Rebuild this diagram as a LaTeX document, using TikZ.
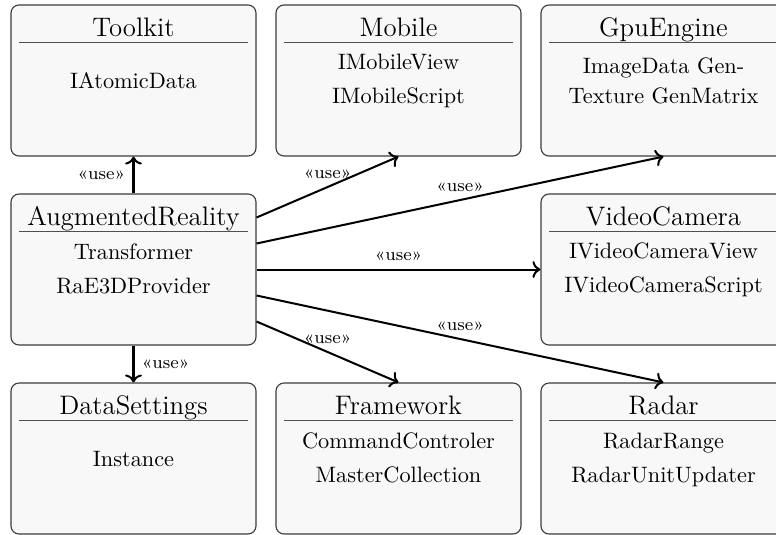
\documentclass[tikz,border=0pt]{standalone}
\usetikzlibrary{calc,arrows.meta}
\definecolor{boxfill}{HTML}{F8F8F8}
\definecolor{boxline}{HTML}{3C3C3C}
\definecolor{ruleline}{HTML}{505050}
\newcommand{\pkgbox}[4]{%
  \node[box] (#1) at (#2,#3+75.5) {};
  \node[ttl] (#1-title) at (#2,#3+31) {#4};
  \draw[pkgrule] ($(#1.north west)+(9,38)$) -- ($(#1.north east)+(-9,38)$);
}
\begin{document}
\begin{tikzpicture}[x=0.4484pt,y=-0.4484pt,
  box/.style={draw=boxline, fill=boxfill, rounded corners=3.6pt, line width=0.5pt,
    minimum width=109.86pt, minimum height=67.71pt, inner sep=0pt},
  pkgrule/.style={draw=ruleline, line width=0.5pt},
  ttl/.style={font=\large, anchor=base, inner sep=0pt},
  itm/.style={font=\normalsize, anchor=base, inner sep=0pt},
  use/.style={->, line width=0.9pt},
  lbl/.style={font=\footnotesize}]
\useasboundingbox (0,0) rectangle (776,534);
\clip (0,0) rectangle (776,534);
% row 1
\pkgbox{toolkit}{133.5}{5}{Toolkit}
\node[itm] (toolkit-1) at (133.5,5+83) {IAtomicData};
\pkgbox{mobile}{398.5}{5}{Mobile}
\node[itm] (mobile-1) at (398.5,5+64) {IMobileView};
\node[itm] (mobile-2) at (398.5,5+98) {IMobileScript};
\pkgbox{gpu}{663.5}{5}{GpuEngine}
\node[itm] (gpu-1) at (663.5,5+68) {ImageData Gen-};
\node[itm] (gpu-2) at (663.5,5+98) {Texture GenMatrix};
% row 2
\pkgbox{ar}{133.5}{194}{AugmentedReality}
\node[itm] (ar-1) at (133.5,194+65) {Transformer};
\node[itm] (ar-2) at (133.5,194+99) {RaE3DProvider};
\pkgbox{vc}{663.5}{194}{VideoCamera}
\node[itm] (vc-1) at (663.5,194+64) {IVideoCameraView};
\node[itm] (vc-2) at (663.5,194+98) {IVideoCameraScript};
% row 3
\pkgbox{ds}{133.5}{383}{DataSettings}
\node[itm] (ds-1) at (133.5,383+83) {Instance};
\pkgbox{fw}{398.5}{383}{Framework}
\node[itm] (fw-1) at (398.5,383+65) {CommandControler};
\node[itm] (fw-2) at (398.5,383+99) {MasterCollection};
\pkgbox{radar}{663.5}{383}{Radar}
\node[itm] (radar-1) at (663.5,383+65) {RadarRange};
\node[itm] (radar-2) at (663.5,383+99) {RadarUnitUpdater};
% attachment points on the right side of AugmentedReality
\coordinate (e1) at ($(ar.east)+(0,-52)$);
\coordinate (e2) at ($(ar.east)+(0,-26)$);
\coordinate (e4) at ($(ar.east)+(0,26)$);
\coordinate (e5) at ($(ar.east)+(0,52)$);
% connectors
\draw[use] (ar.north) -- node[lbl,left] {«use»} (toolkit.south);
\draw[use] (ar.south) -- node[lbl,right] {«use»} (ds.north);
\draw[use] (e1) -- node[lbl,above] {«use»} (mobile.south);
\draw[use] (e2) -- node[lbl,above] {«use»} (gpu.south);
\draw[use] (ar.east) -- node[lbl,above] {«use»} (vc.west);
\draw[use] (e4) -- node[lbl,above] {«use»} (radar.north);
\draw[use] (e5) -- node[lbl,above] {«use»} (fw.north);
\end{tikzpicture}
\end{document}
